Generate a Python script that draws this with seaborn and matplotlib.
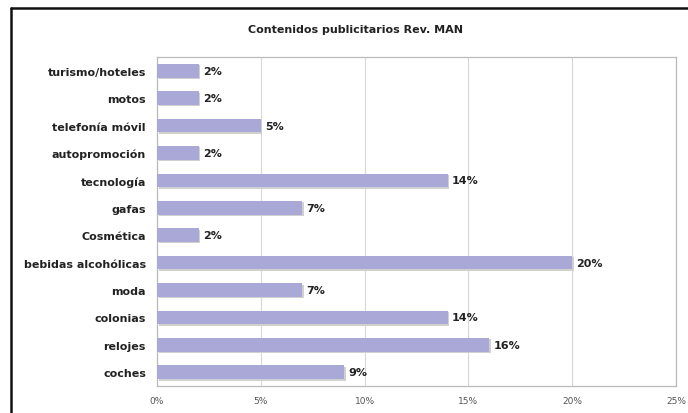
import matplotlib
matplotlib.use('Agg')
import matplotlib.pyplot as plt
import seaborn as sns
import pandas as pd
from matplotlib.lines import Line2D
from matplotlib.ticker import FuncFormatter

CATEGORIES = ['turismo/hoteles', 'motos', 'telefonía móvil', 'autopromoción',
              'tecnología', 'gafas', 'Cosmética', 'bebidas alcohólicas',
              'moda', 'colonias', 'relojes', 'coches']
PERCENTS = [2, 2, 5, 2, 14, 7, 2, 20, 7, 14, 16, 9]
X_TICKS = [0, 5, 10, 15, 20, 25]
TITLE = 'Contenidos publicitarios Rev. MAN'
BAR_COLOR = '#a9a8d6'


def build_df():
    return pd.DataFrame({'categoria': CATEGORIES, 'pct': PERCENTS})


def plot_chart(df):
    sns.set_style('white')
    plt.rcParams['font.family'] = ['DejaVu Sans']
    fig = plt.figure(figsize=(6.88, 4.14), dpi=100)
    W, H = 688, 414
    ax = fig.add_axes([157 / W, 1 - 387 / H, (676 - 157) / W, (387 - 58) / H])

    # light shadow under the bars
    sns.barplot(data=df, x='pct', y='categoria', orient='h', color='#d0d0d0',
                width=0.5, saturation=1, ax=ax, zorder=2,
                linewidth=0)
    for p in ax.patches:
        p.set_x(p.get_x() + 0.08)
        p.set_y(p.get_y() + 0.05)
    n_shadow = len(ax.patches)
    sns.barplot(data=df, x='pct', y='categoria', orient='h', color=BAR_COLOR,
                width=0.5, saturation=1, ax=ax, zorder=3, linewidth=0)

    for p, v in zip(ax.patches[n_shadow:], PERCENTS):
        ax.text(v + 0.2, p.get_y() + p.get_height() / 2, '{}%'.format(v),
                va='center', ha='left', fontsize=8, fontweight='bold',
                color='#222222', zorder=4)

    ax.set_xlim(0, 25)
    ax.set_ylim(len(CATEGORIES) - 0.5, -0.5)
    ax.set_xticks(X_TICKS)
    ax.xaxis.set_major_formatter(FuncFormatter(lambda x, _: '{:.0f}%'.format(x)))
    ax.grid(axis='x', color='#d8d8d8', linewidth=0.8, zorder=0)
    ax.grid(axis='y', visible=False)
    ax.set_xlabel('')
    ax.set_ylabel('')
    for s in ax.spines.values():
        s.set_color('#bbbbbb')
        s.set_linewidth(0.9)
    ax.tick_params(axis='x', labelsize=6.5, colors='#555555', length=0, pad=7)
    ax.tick_params(axis='y', labelsize=8, length=0, pad=8)
    for lbl in ax.get_yticklabels():
        lbl.set_fontweight('bold')
        lbl.set_color('#222222')

    fig.text(356 / W, 1 - 30 / H, TITLE, ha='center', va='center',
             fontsize=8, fontweight='bold', color='#222222')

    # outer frame (top and left edges visible)
    fig.add_artist(Line2D([11 / W, 1.0], [1 - 9 / H, 1 - 9 / H],
                          transform=fig.transFigure, color='#111111', linewidth=1.8))
    fig.add_artist(Line2D([11 / W, 11 / W], [0.0, 1 - 9 / H],
                          transform=fig.transFigure, color='#111111', linewidth=1.8))

    fig.savefig('out.png', dpi=100)


if __name__ == '__main__':
    df = build_df()
    plot_chart(df)
